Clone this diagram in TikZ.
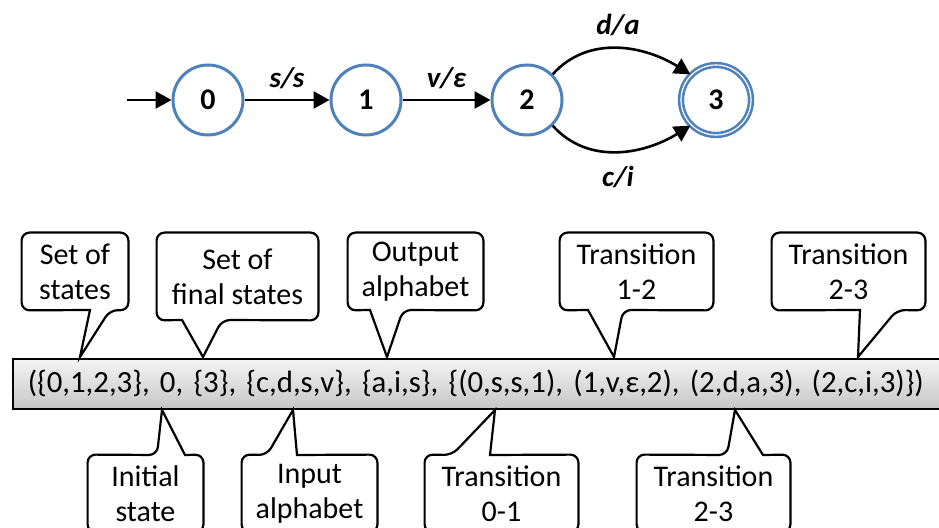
\documentclass[tikz,border=0pt]{standalone}
\usepackage{fontspec}
\setmainfont{Carlito}
\usepackage{tikz}
\usetikzlibrary{positioning,arrows.meta}
\definecolor{stateblue}{RGB}{79,129,189}

\begin{document}
\begin{tikzpicture}[x=0.5pt,y=-0.5pt,
        state/.style={circle,draw=stateblue,line width=1.5pt,minimum size=35pt,inner sep=0pt,font=\fontsize{15}{17}\selectfont\bfseries},
        final/.style={state,double=white,double distance=0.6pt,line width=1.3pt},
        trans/.style={-{Triangle[length=8pt,width=8.5pt]},line width=1.3pt},
        lab/.style={font=\fontsize{14.5}{16}\selectfont\bfseries\itshape,inner sep=1pt},
        bubtext/.style={inner sep=0pt,align=center,minimum height=38.5pt,font=\fontsize{15}{17.5}\selectfont},
        bubble/.style={draw,line width=1.1pt,line join=miter},
        tuple/.style={draw,line width=0.8pt,top color=gray!8,bottom color=gray!45,anchor=north west,text width=458pt,minimum height=25pt,inner ysep=0pt,inner xsep=7.5pt,align=left,font=\fontsize{15.4}{17}\selectfont}]
        \path[use as bounding box,clip] (0,0) rectangle (939,528);
        \node[state] (s0) at (208,100) {0};
        \node[state] (s1) at (366,100) {1};
        \node[state] (s2) at (527,100) {2};
        \node[final] (s3) at (716,100) {3};
        \coordinate (start) at (127,100);
        \draw[trans] (start) -- (s0);
        \draw[trans] (s0) -- node[lab,above=4pt] {s/s} (s1);
        \draw[trans] (s1) -- node[lab,above=4pt] {v/ε} (s2);
        \draw[trans] (s2.45) to[out=48,in=148] node[lab,above=5pt] {d/a} (s3.135);
        \draw[trans] (s2.-45) to[out=-48,in=-148] node[lab,below=6pt] {c/i} (s3.-135);
        \node[tuple] (tuple) at (12,358) {(\{0,1,2,3\}, 0, \{3\}, \{c,d,s,v\}, \{a,i,s\}, \{(0,s,s,1), (1,v,ε,2), (2,d,a,3), (2,c,i,3)\})};
        \node[bubtext,minimum width=53pt] (states) at (75,271.5) {Set of\\states};
        \draw[bubble] (states.west) [rounded corners=4pt] -- (states.north west) -- (states.north east) -- (states.south east) -- (110,310) [sharp corners] -- (80,357) -- (90,310) [rounded corners=4pt] -- (states.south west) -- cycle;
        \node[bubtext,minimum width=80.5pt,minimum height=43.5pt] (finals) at (237.5,276.5) {Set of\\final states};
        \draw[bubble] (finals.west) [rounded corners=4pt] -- (finals.north west) -- (finals.north east) -- (finals.south east) -- (222,320) [sharp corners] -- (203,357) -- (182,320) [rounded corners=4pt] -- (finals.south west) -- cycle;
        \node[bubtext,minimum width=67.5pt] (outalph) at (415.5,271.5) {Output\\alphabet};
        \draw[bubble] (outalph.west) [rounded corners=4pt] -- (outalph.north west) -- (outalph.north east) -- (outalph.south east) -- (403,310) [sharp corners] -- (387,357) -- (370,310) [rounded corners=4pt] -- (outalph.south west) -- cycle;
        \node[bubtext,minimum width=76.5pt] (trans12) at (636.5,271.5) {Transition\\1-2};
        \draw[bubble] (trans12.west) [rounded corners=4pt] -- (trans12.north west) -- (trans12.north east) -- (trans12.south east) -- (623,310) [sharp corners] -- (614,357) -- (588,310) [rounded corners=4pt] -- (trans12.south west) -- cycle;
        \node[bubtext,minimum width=76.5pt] (trans23a) at (848.5,271.5) {Transition\\2-3};
        \draw[bubble] (trans23a.west) [rounded corners=4pt] -- (trans23a.north west) -- (trans23a.north east) -- (trans23a.south east) -- (897,310) [sharp corners] -- (858,357) -- (860,310) [rounded corners=4pt] -- (trans23a.south west) -- cycle;
        \node[bubtext,minimum width=57.5pt] (init) at (145.5,493.5) {Initial\\state};
        \draw[bubble] (init.east) [rounded corners=4pt] -- (init.south east) -- (init.south west) -- (init.north west) -- (157,455) [sharp corners] -- (162,410) -- (185,455) [rounded corners=4pt] -- (init.north east) -- cycle;
        \node[bubtext,minimum width=67.5pt] (inalph) at (309.5,493.5) {Input\\alphabet};
        \draw[bubble] (inalph.east) [rounded corners=4pt] -- (inalph.south east) -- (inalph.south west) -- (inalph.north west) -- (267,455) [sharp corners] -- (293,410) -- (297,455) [rounded corners=4pt] -- (inalph.north east) -- cycle;
        \node[bubtext,minimum width=76.5pt] (trans01) at (501.5,493.5) {Transition\\0-1};
        \draw[bubble] (trans01.east) [rounded corners=4pt] -- (trans01.south east) -- (trans01.south west) -- (trans01.north west) -- (452,455) [sharp corners] -- (495,410) -- (490,455) [rounded corners=4pt] -- (trans01.north east) -- cycle;
        \node[bubtext,minimum width=76.5pt] (trans23b) at (713.5,493.5) {Transition\\2-3};
        \draw[bubble] (trans23b.east) [rounded corners=4pt] -- (trans23b.south east) -- (trans23b.south west) -- (trans23b.north west) -- (727,455) [sharp corners] -- (735,410) -- (763,455) [rounded corners=4pt] -- (trans23b.north east) -- cycle;
\end{tikzpicture}
\end{document}
